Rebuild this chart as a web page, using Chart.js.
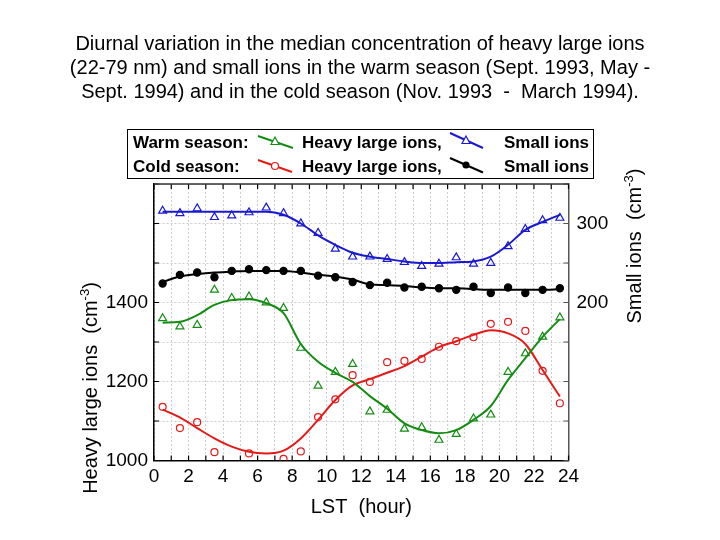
<!DOCTYPE html>
<html>
<head>
<meta charset="utf-8">
<script src="https://cdn.jsdelivr.net/npm/chart.js@4.4.1/dist/chart.umd.min.js"></script>
<style>
  html, body { margin: 0; padding: 0; background: #fff; }
  #wrap { position: relative; width: 720px; height: 540px; font-family: "Liberation Sans", Arial, sans-serif; color: #000; }
  #c { position: absolute; left: 0; top: 0; }
  #title { position: absolute; left: 0; top: 31px; width: 720px; text-align: center; font-size: 20px; line-height: 24px; white-space: pre; }
  #legendBox { position: absolute; left: 127px; top: 129px; width: 467px; height: 50px; border: 1px solid #000; box-sizing: border-box; }
  .lg { position: absolute; font-weight: bold; font-size: 17px; line-height: 20px; white-space: pre; }
  .ytitle { position: absolute; font-size: 20px; line-height: 24px; white-space: pre; transform: translate(-50%, -50%) rotate(-90deg); }
  .ytitle sup { font-size: 13px; vertical-align: 8px; line-height: 0; }
  svg { position: absolute; left: 0; top: 0; pointer-events: none; }
</style>
</head>
<body>
<div id="wrap">
  <canvas id="c" width="720" height="540"></canvas>
  <div id="title">Diurnal variation in the median concentration of heavy large ions
(22-79 nm) and small ions in the warm season (Sept. 1993, May -
Sept. 1994) and in the cold season (Nov. 1993  -  March 1994).</div>
  <div id="legendBox"></div>
  <div class="lg" style="left:133px;top:133px">Warm season:</div>
  <div class="lg" style="left:302px;top:133px">Heavy large ions,</div>
  <div class="lg" style="left:504px;top:133px">Small ions</div>
  <div class="lg" style="left:133px;top:157px">Cold season:</div>
  <div class="lg" style="left:302px;top:157px">Heavy large ions,</div>
  <div class="lg" style="left:504px;top:157px">Small ions</div>
  <svg width="720" height="540">
    <line x1="258" y1="136" x2="293" y2="148" stroke="#148c14" stroke-width="2"/>
    <polygon points="275,137 279,144.5 271,144.5" fill="#fff" stroke="#148c14" stroke-width="1.2"/>
    <line x1="450" y1="133" x2="483" y2="148" stroke="#1919d2" stroke-width="2"/>
    <polygon points="466,136 470,143.5 462,143.5" fill="#fff" stroke="#1919d2" stroke-width="1.2"/>
    <line x1="258" y1="160" x2="292" y2="172" stroke="#e61919" stroke-width="2"/>
    <circle cx="275" cy="166" r="3.5" fill="#fff" stroke="#e61919" stroke-width="1.2"/>
    <line x1="450" y1="158" x2="483" y2="172.5" stroke="#000" stroke-width="2"/>
    <circle cx="466" cy="165" r="3.6" fill="#000"/>
  </svg>
  <div class="ytitle" style="left:90px;top:388px">Heavy large ions  (cm<sup>-3</sup>)</div>
  <div class="ytitle" style="left:634px;top:246px">Small ions  (cm<sup>-3</sup>)</div>
</div>
<script>
// ---- data ----
const hours = [0.5,1.5,2.5,3.5,4.5,5.5,6.5,7.5,8.5,9.5,10.5,11.5,12.5,13.5,14.5,15.5,16.5,17.5,18.5,19.5,20.5,21.5,22.5,23.5];

const warmHeavy    = [1360,1339,1343,1432,1411,1415,1400,1386,1285,1189,1224,1244,1124,1128,1080,1084,1052,1067,1106,1116,1224,1271,1313,1362];
const warmHeavyFit = [1349,1351,1368,1394,1406,1408,1398,1373,1295,1250,1222,1199,1163,1131,1094,1077,1069,1077,1103,1138,1204,1259,1313,1358];

const coldHeavy    = [1136,1082,1097,1021,null,1018,null,1004,1023,1110,1155,1216,1199,1249,1252,1257,1288,1302,1312,1346,1351,1328,1227,1145];
const coldHeavyFit = [1129,1109,1082,1056,1035,1022,1018,1025,1056,1103,1153,1190,1206,1222,1239,1263,1287,1302,1318,1330,1322,1295,1229,1162];

const warmSmall    = [316,313,319,308,310,314,320,313,300,288,268,258,258,255,251,246,249,257,249,250,271,293,304,307];
const warmSmallFit = [315,315,315,315,315,315,315,311,300,285,273,263,258,255,252,250,250,251,252,258,273,292,302,311];

const coldSmall    = [224,235,238,232,240,242,241,240,240,234,232,226,222,225,219,220,218,216,220,212,219,212,216,218];
const coldSmallFit = [226,233,236,238,239,240,240,240,238,235,233,229,223,222,221,219,218,218,217,216,216,216,216,217];

const xTickHours   = [0,1,2,3,4,5,6,7,8,9,10,11,12,13,14,15,16,17,18,19,20,21,22,23,24];
const xTickLabels  = [0,2,4,6,8,10,12,14,16,18,20,22,24];
const leftTicks    = [1000,1100,1200,1300,1400,1500,1600,1700];
const leftLabels   = [1000,1200,1400];
const rightTicks   = [0,50,100,150,200,250,300,350];
const rightLabels  = [200,300];

const GREEN = '#148c14', BLUE = '#1919d2', RED = '#e61919', BLACK = '#000';

const pts = (ys) => hours.map((h, i) => ({x: h, y: ys[i]}));

function pointSet(label, ys, color, style, radius, filled, axis) {
  return {
    label, data: pts(ys), yAxisID: axis, showLine: false,
    pointStyle: style, pointRadius: radius, pointBorderWidth: 1.2,
    pointBorderColor: color, pointBackgroundColor: filled ? color : 'rgba(0,0,0,0)',
    borderColor: color, backgroundColor: 'rgba(0,0,0,0)'
  };
}
function lineSet(label, ys, color, axis) {
  return {
    label, data: pts(ys), yAxisID: axis, showLine: true,
    borderColor: color, borderWidth: 2, pointRadius: 0, tension: 0.4,
    cubicInterpolationMode: 'monotone', fill: false
  };
}

const tickFrame = {
  id: 'tickFrame',
  afterDatasetsDraw(chart) {
    const {ctx, chartArea: a, scales} = chart;
    const x = scales.x, y = scales.y, y2 = scales.y2;
    ctx.save();
    ctx.strokeStyle = '#000';
    ctx.lineWidth = 1.2;
    ctx.beginPath();
    xTickHours.forEach(v => {
      const px = x.getPixelForValue(v);
      ctx.moveTo(px, a.bottom); ctx.lineTo(px, a.bottom - 5);
      ctx.moveTo(px, a.top); ctx.lineTo(px, a.top + 5);
    });
    leftTicks.forEach(v => {
      const py = y.getPixelForValue(v);
      ctx.moveTo(a.left, py); ctx.lineTo(a.left + 5, py);
    });
    ctx.stroke();
    ctx.strokeStyle = '#555';
    ctx.beginPath();
    rightTicks.forEach(v => {
      const py = y2.getPixelForValue(v);
      ctx.moveTo(a.right, py); ctx.lineTo(a.right - 5, py);
    });
    ctx.stroke();
    ctx.strokeStyle = '#333';
    ctx.lineWidth = 1.5;
    ctx.beginPath();
    ctx.moveTo(a.left, a.top); ctx.lineTo(a.right, a.top);
    ctx.stroke();
    ctx.restore();
  }
};

Chart.defaults.font.family = '"Liberation Sans", Arial, sans-serif';
Chart.defaults.color = '#000';

new Chart(document.getElementById('c'), {
  type: 'scatter',
  data: {
    datasets: [
      lineSet('Warm heavy fit', warmHeavyFit, GREEN, 'y'),
      lineSet('Cold heavy fit', coldHeavyFit, RED, 'y'),
      lineSet('Warm small fit', warmSmallFit, BLUE, 'y2'),
      lineSet('Cold small fit', coldSmallFit, BLACK, 'y2'),
      pointSet('Warm season: Heavy large ions', warmHeavy, GREEN, 'triangle', 4.6, false, 'y'),
      pointSet('Cold season: Heavy large ions', coldHeavy, RED, 'circle', 3.5, false, 'y'),
      pointSet('Warm season: Small ions', warmSmall, BLUE, 'triangle', 4.6, false, 'y2'),
      pointSet('Cold season: Small ions', coldSmall, BLACK, 'circle', 3.6, true, 'y2')
    ]
  },
  options: {
    responsive: false,
    animation: false,
    layout: { padding: { top: 184, left: 0, right: 0, bottom: 0 } },
    plugins: { legend: { display: false }, title: { display: false }, tooltip: { enabled: false } },
    scales: {
      x: {
        type: 'linear', min: 0, max: 24,
        afterFit: s => { s.height = 79.5; },
        ticks: {
          stepSize: 1, autoSkip: false, maxRotation: 0, padding: 5,
          font: { size: 19 }, color: '#000',
          callback: v => xTickLabels.includes(v) ? String(v) : ''
        },
        grid: { color: '#cdcdcd', lineWidth: 1, drawTicks: false },
        border: { color: '#000', width: 1.5, dash: [2, 2] },
        title: { display: true, text: 'LST  (hour)', font: { size: 20 }, color: '#000', padding: { top: 0, bottom: 21 } }
      },
      y: {
        type: 'linear', position: 'left', min: 1000, max: 1700,
        afterFit: s => { s.width = 154; },
        ticks: {
          stepSize: 100, padding: 6, font: { size: 19 }, color: '#000',
          callback: v => leftLabels.includes(v) ? String(v) : ''
        },
        grid: { color: '#cdcdcd', lineWidth: 1, drawTicks: false },
        border: { color: '#000', width: 1.5, dash: [2, 2] }
      },
      y2: {
        type: 'linear', position: 'right', min: 0, max: 350,
        afterFit: s => { s.width = 151.5; },
        ticks: {
          stepSize: 50, padding: 8, font: { size: 19 }, color: '#000',
          callback: v => rightLabels.includes(v) ? String(v) : ''
        },
        grid: { display: false, drawTicks: false },
        border: { color: '#555', width: 1.5 }
      }
    }
  },
  plugins: [tickFrame]
});
</script>
</body>
</html>
